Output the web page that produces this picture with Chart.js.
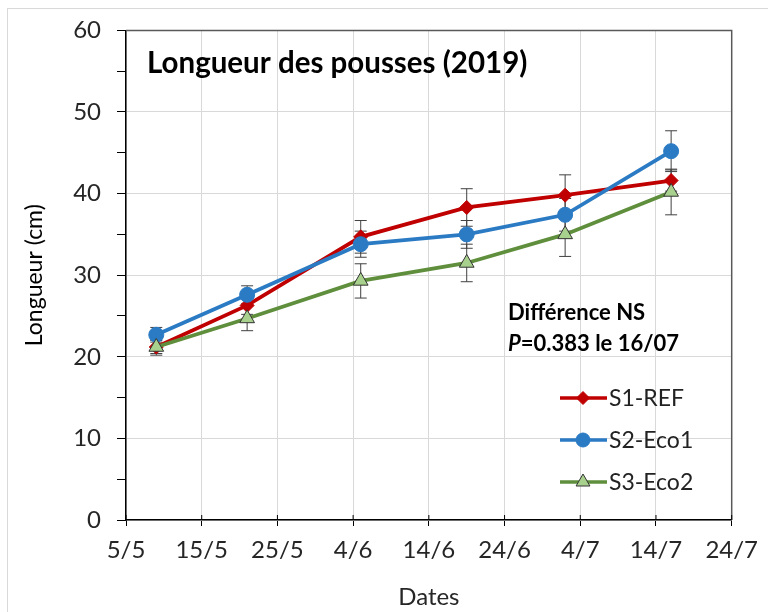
<!DOCTYPE html>
<html>
<head>
<meta charset="utf-8">
<script src="https://cdn.jsdelivr.net/npm/chart.js@4"></script>
<style>
  body { margin: 0; background: #fff; }
  #wrap { position: relative; width: 768px; height: 612px; }
  #frame { position: absolute; left: 7px; top: 8px; width: 780px; height: 620px; border: 1px solid #d9d9d9; }
  canvas { position: absolute; left: 0; top: 0; }
</style>
</head>
<body>
<div id="wrap">
  <div id="frame"></div>
  <canvas id="chart" width="768" height="612"></canvas>
</div>
<script>
// x axis labels (every 10 days from 5/5)
const tickLabels = ['5/5', '15/5', '25/5', '4/6', '14/6', '24/6', '4/7', '14/7', '24/7'];
// sampling dates
const sampleDates = ['9/5', '21/5', '5/6', '19/6', '2/7', '16/7'];

const s1Ref = [21.2, 26.3, 34.7, 38.3, 39.8, 41.6];
const s1Err = [0.8, 1.1, 2.0, 2.3, 2.5, 1.3];
const s2Eco1 = [22.7, 27.6, 33.8, 35.0, 37.4, 45.2];
const s2Err = [0.9, 1.1, 1.6, 1.7, 2.0, 2.5];
const s3Eco2 = [21.2, 24.7, 29.3, 31.5, 35.0, 40.2];
const s3Err = [1.0, 1.5, 2.1, 2.3, 2.7, 2.8];

const seriesNames = ['S1-REF', 'S2-Eco1', 'S3-Eco2'];

const FONT = 'Lato, "Open Sans", sans-serif';

function dayNum(s) {
  const [d, m] = s.split('/').map(Number);
  return Date.UTC(2019, m - 1, d) / 86400000;
}
const day0 = dayNum(tickLabels[0]);
const xDays = sampleDates.map(s => dayNum(s) - day0);

function toPoints(vals) {
  return vals.map((v, i) => ({ x: xDays[i], y: v }));
}

const styles = [
  { color: '#c00000', point: 'rectRot', radius: 7, fill: '#c00000', border: '#c00000', bw: 1 },
  { color: '#2b7bc4', point: 'circle', radius: 7.5, fill: '#2b7bc4', border: '#2b7bc4', bw: 1 },
  { color: '#5f8f3c', point: 'triangle', radius: 8.5, fill: '#a9d18e', border: '#333', bw: 1 }
];
const allVals = [s1Ref, s2Eco1, s3Eco2];
const allErr = [s1Err, s2Err, s3Err];

// error bars, plot frame, legend and texts
const extras = {
  id: 'extras',
  beforeDatasetsDraw(chart) {
    const ctx = chart.ctx;
    const xs = chart.scales.x, ys = chart.scales.y;
    ctx.save();
    ctx.strokeStyle = '#404040';
    ctx.lineWidth = 1;
    allVals.forEach((vals, si) => {
      vals.forEach((v, i) => {
        const px = xs.getPixelForValue(xDays[i]);
        const top = ys.getPixelForValue(v + allErr[si][i]);
        const bot = ys.getPixelForValue(v - allErr[si][i]);
        ctx.beginPath();
        ctx.moveTo(px, top); ctx.lineTo(px, bot);
        ctx.moveTo(px - 6, top); ctx.lineTo(px + 6, top);
        ctx.moveTo(px - 6, bot); ctx.lineTo(px + 6, bot);
        ctx.stroke();
      });
    });
    ctx.restore();
  },
  afterDraw(chart) {
    const ctx = chart.ctx;
    const a = chart.chartArea;
    const xs = chart.scales.x;
    ctx.save();
    // plot frame top / right
    ctx.strokeStyle = '#595959';
    ctx.lineWidth = 1.5;
    ctx.beginPath();
    ctx.moveTo(a.left, a.top); ctx.lineTo(a.right, a.top); ctx.lineTo(a.right, a.bottom);
    ctx.stroke();
    // x ticks crossing into the plot
    ctx.strokeStyle = '#000';
    ctx.lineWidth = 1;
    xs.ticks.forEach(t => {
      const px = xs.getPixelForValue(t.value);
      ctx.beginPath(); ctx.moveTo(px, a.bottom); ctx.lineTo(px, a.bottom - 5); ctx.stroke();
    });
    // title
    ctx.fillStyle = '#000';
    ctx.textBaseline = 'middle';
    ctx.font = 'bold 29.5px ' + FONT;
    ctx.fillText('Longueur des pousses (2019)', a.left + 21, a.top + 33);
    // annotation
    ctx.font = 'bold 22px ' + FONT;
    ctx.fillText('Différence NS', 508, 313);
    ctx.font = 'bold italic 22px ' + FONT;
    ctx.fillText('P', 508, 344);
    const pw = ctx.measureText('P').width;
    ctx.font = 'bold 22px ' + FONT;
    ctx.fillText('=0.383 le 16/07', 508 + pw, 344);
    // legend
    const ly = [398, 440, 482];
    ctx.font = '23px ' + FONT;
    styles.forEach((s, i) => {
      ctx.strokeStyle = s.color;
      ctx.lineWidth = 3.5;
      ctx.beginPath(); ctx.moveTo(560, ly[i]); ctx.lineTo(607, ly[i]); ctx.stroke();
      ctx.fillStyle = s.fill;
      ctx.strokeStyle = s.border;
      ctx.lineWidth = s.bw;
      Chart.helpers.drawPoint(ctx, { pointStyle: s.point, radius: s.radius - 0.5, borderWidth: s.bw }, 583, ly[i]);
      ctx.fillStyle = '#222';
      ctx.fillText(seriesNames[i], 609, ly[i] + 1);
    });
    ctx.restore();
  }
};

new Chart(document.getElementById('chart'), {
  type: 'line',
  data: {
    datasets: allVals.map((vals, i) => ({
      label: seriesNames[i],
      data: toPoints(vals),
      borderColor: styles[i].color,
      borderWidth: 3.8,
      backgroundColor: styles[i].fill,
      pointStyle: styles[i].point,
      pointRadius: styles[i].radius,
      pointBackgroundColor: styles[i].fill,
      pointBorderColor: styles[i].border,
      pointBorderWidth: styles[i].bw,
      tension: 0,
      order: 2 - i
    }))
  },
  options: {
    responsive: false,
    animation: false,
    layout: { padding: { left: 7, top: 29, right: 34, bottom: 0 } },
    plugins: { legend: { display: false }, tooltip: { enabled: false } },
    scales: {
      x: {
        type: 'linear',
        min: 0, max: 80,
        ticks: {
          stepSize: 10,
          color: '#262626',
          font: { family: FONT, size: 24 },
          padding: 10,
          maxRotation: 0,
          callback: v => tickLabels[Math.round(v / 10)]
        },
        grid: { color: '#d9d9d9', tickColor: '#000', tickLength: 6 },
        border: { color: '#000', width: 1.5 },
        title: { display: true, text: 'Dates', color: '#262626', font: { family: FONT, size: 24 }, padding: { top: 0, bottom: 0 } },
        afterFit: s => { s.height = 92; }
      },
      y: {
        min: 0, max: 60,
        ticks: {
          stepSize: 5,
          color: '#262626',
          font: { family: FONT, size: 24 },
          padding: 16,
          callback: v => (v % 10 === 0 ? v : '')
        },
        grid: {
          color: c => (c.tick && c.tick.value % 10 === 0 ? '#d9d9d9' : 'rgba(0,0,0,0)'),
          tickColor: '#000',
          tickLength: 9
        },
        border: { color: '#000', width: 1.5 },
        title: { display: true, text: 'Longueur (cm)', color: '#000', font: { family: FONT, size: 23 }, padding: { top: 14, bottom: 0 } },
        afterFit: s => { s.width = 119; }
      }
    }
  },
  plugins: [extras]
});
</script>
</body>
</html>
